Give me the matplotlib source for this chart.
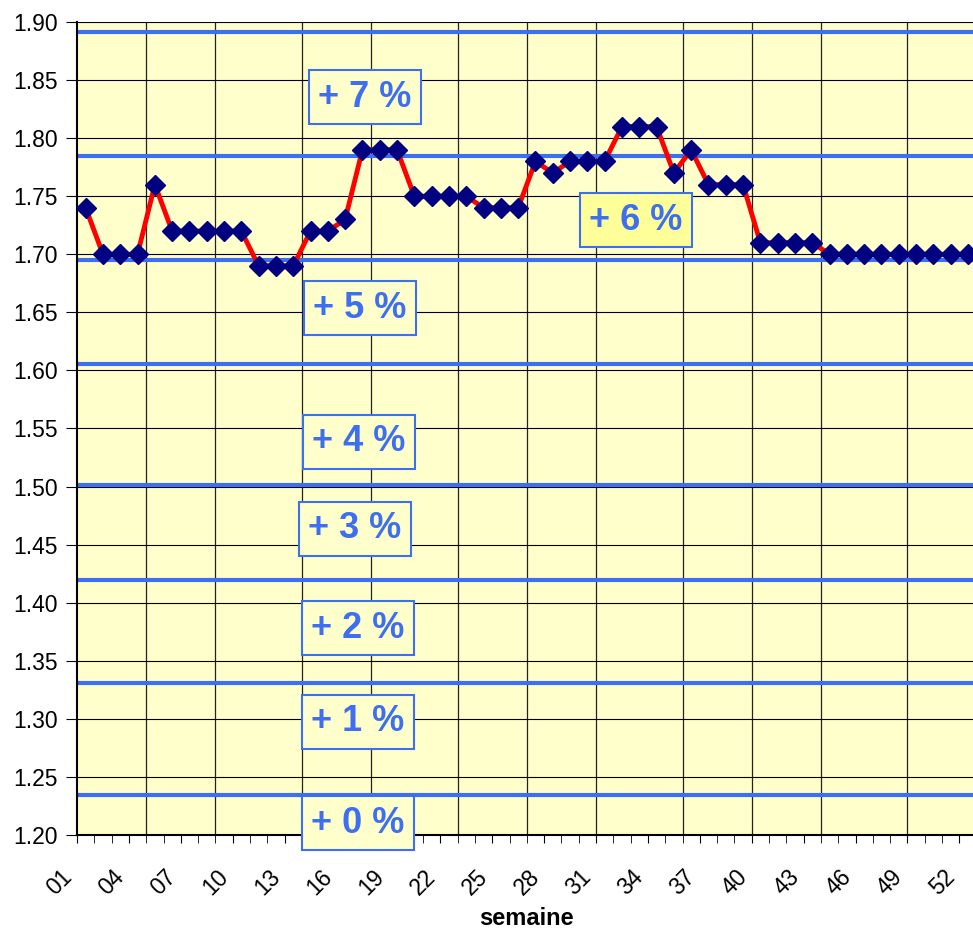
import matplotlib
matplotlib.use("Agg")
import matplotlib.pyplot as plt
from matplotlib.ticker import FixedLocator, MultipleLocator

plt.rcParams['font.family'] = ['Liberation Sans', 'DejaVu Sans']

# weekly price (semaine 01..52)
weeks = list(range(1, 53))
prices = [1.74, 1.70, 1.70, 1.70, 1.76, 1.72, 1.72, 1.72, 1.72, 1.72,
          1.69, 1.69, 1.69, 1.72, 1.72, 1.73, 1.79, 1.79, 1.79, 1.75,
          1.75, 1.75, 1.75, 1.74, 1.74, 1.74, 1.78, 1.77, 1.78, 1.78,
          1.78, 1.81, 1.81, 1.81, 1.77, 1.79, 1.76, 1.76, 1.76, 1.71,
          1.71, 1.71, 1.71, 1.70, 1.70, 1.70, 1.70, 1.70, 1.70, 1.70,
          1.70, 1.70]

# last week of each month (vertical gridlines)
month_end_weeks = [4, 8, 13, 17, 22, 26, 30, 35, 39, 43, 48]

# threshold lines (+0 % ... +7 %)
band_levels = [1.2344, 1.3309, 1.4195, 1.5013, 1.6055, 1.6951, 1.7846, 1.8914]
band_labels = ['+ 0 %', '+ 1 %', '+ 2 %', '+ 3 %', '+ 4 %', '+ 5 %', '+ 6 %', '+ 7 %']
band_label_x = [16.74, 16.74, 16.74, 16.57, 16.80, 16.86, 32.81, 17.15]
band_label_y = [1.2103, 1.2973, 1.3782, 1.4635, 1.5384, 1.6537, 1.7295, 1.8354]

tick_weeks = list(range(1, 53, 3))
tick_labels = [f"{w:02d}" for w in tick_weeks]

BLUE = '#3d6ff0'

fig = plt.figure(figsize=(9.73, 9.31), dpi=100)
ax = fig.add_axes([77 / 973, 1 - 835 / 931, 899.6 / 973, 813 / 931])
ax.set_facecolor('#ffffcc')

ax.set_xlim(0.5, 52.5)
ax.set_ylim(1.20, 1.90)

# grid
ax.yaxis.set_major_locator(MultipleLocator(0.05))
ax.grid(axis='y', color='black', linewidth=0.8, zorder=1)
for w in month_end_weeks:
    ax.axvline(w + 0.5, color='#222222', linewidth=0.9, zorder=1)

for lvl in band_levels:
    ax.axhline(lvl, color=BLUE, linewidth=3, zorder=2)

ax.plot(weeks, prices, color='red', linewidth=3.5, zorder=3)
ax.plot(weeks, prices, linestyle='none', marker='D', markersize=10,
        color='#000080', zorder=4)

for txt, x, y in zip(band_labels, band_label_x, band_label_y):
    fc = '#ffff99' if txt == '+ 6 %' else '#ffffcc'
    ax.text(x, y, txt, ha='center', va='center', fontsize=26,
            fontweight='bold', color=BLUE, zorder=6, clip_on=False,
            bbox=dict(boxstyle='square,pad=0.27', fc=fc, ec=BLUE, lw=1.5))

# x axis: labels right-aligned at the left boundary of their week
ax.xaxis.set_major_locator(FixedLocator([w - 0.5 for w in tick_weeks]))
ax.set_xticklabels(tick_labels, rotation=45, ha='right', fontsize=16.5)
ax.xaxis.set_minor_locator(FixedLocator([w + 0.5 for w in range(0, 53)]))
ax.tick_params(axis='x', which='major', length=6, pad=16)
ax.tick_params(axis='x', which='minor', length=6)
ax.tick_params(axis='y', length=8, labelsize=16.5, pad=6)
ax.set_yticklabels([f"{v:.2f}" for v in ax.get_yticks()])
ax.set_xlabel('semaine', fontsize=17, fontweight='bold', labelpad=5)

for s in ['top', 'right']:
    ax.spines[s].set_visible(False)
for s in ['left', 'bottom']:
    ax.spines[s].set_linewidth(1.5)

fig.savefig('out.png', dpi=100)
